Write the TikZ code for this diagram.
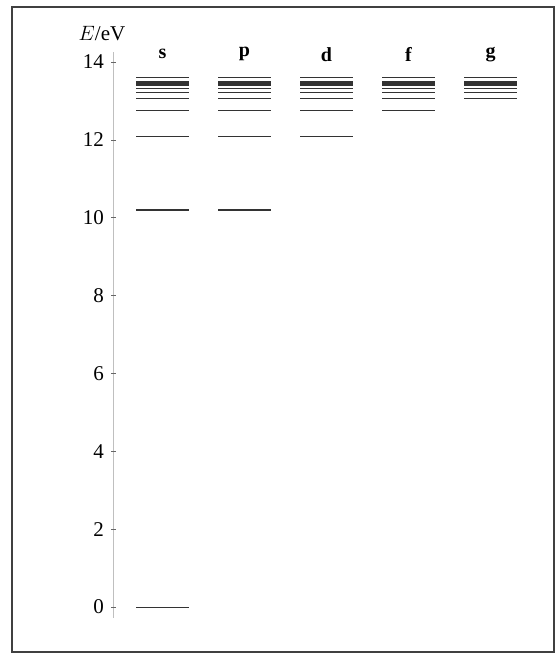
\documentclass[tikz,border=0pt]{standalone}
\usepackage{fontspec}
\setmainfont{Liberation Serif}
\begin{document}
\begin{tikzpicture}[x=1pt,y=1pt,
		lvl/.style={line width=1.2pt,black!80},
		tick/.style={font=\fontsize{21}{23}\selectfont,anchor=east,inner sep=0pt},
		orb/.style={font=\fontsize{20}{22}\selectfont\bfseries,inner sep=0pt}]
		\useasboundingbox (0,0) rectangle (557,661);
		\draw[line width=1.6pt,black!75] (12,9) rectangle (554,654);
		\begin{scope}[yshift=54pt,y=38.93pt]
			% energy axis
			\draw[black!25,line width=0.8pt] (113,-0.28) -- (113,14.26);
			\foreach \e in {0,2,...,14} {
				\draw[black!60,line width=0.6pt] (111,\e) -- (116,\e);
				\node[tick] (t\e) at (104,\e) {\e};
			}
			\node[font=\fontsize{21}{23}\selectfont,inner sep=0pt] (unit) at (102,14.72) {$E$/eV};
			% orbital labels
			\foreach \l [count=\i from 0] in {s,p,d,f,g}
				\node[orb] (\l) at (162.5+82*\i,14.2) {\l};
			% levels E_n = 13.6(1-1/n^2)
			\draw[lvl,line width=0.9pt] (136,0) -- (189,0);
			\foreach \i in {0,1}
				\draw[lvl,line width=2.2pt] (136+82*\i,10.2) -- (189+82*\i,10.2);
			\foreach \i in {0,...,4}
				\foreach \n in {3,...,12} {
					\ifnum\n>\i
						\draw[lvl] (136+82*\i,{13.6*(1-1/(\n*\n))}) -- (189+82*\i,{13.6*(1-1/(\n*\n))});
					\fi
				}
			\foreach \i in {0,...,4}
				\draw[lvl,line width=1.6pt] (136+82*\i,13.6) -- (189+82*\i,13.6);
		\end{scope}
\end{tikzpicture}
\end{document}
